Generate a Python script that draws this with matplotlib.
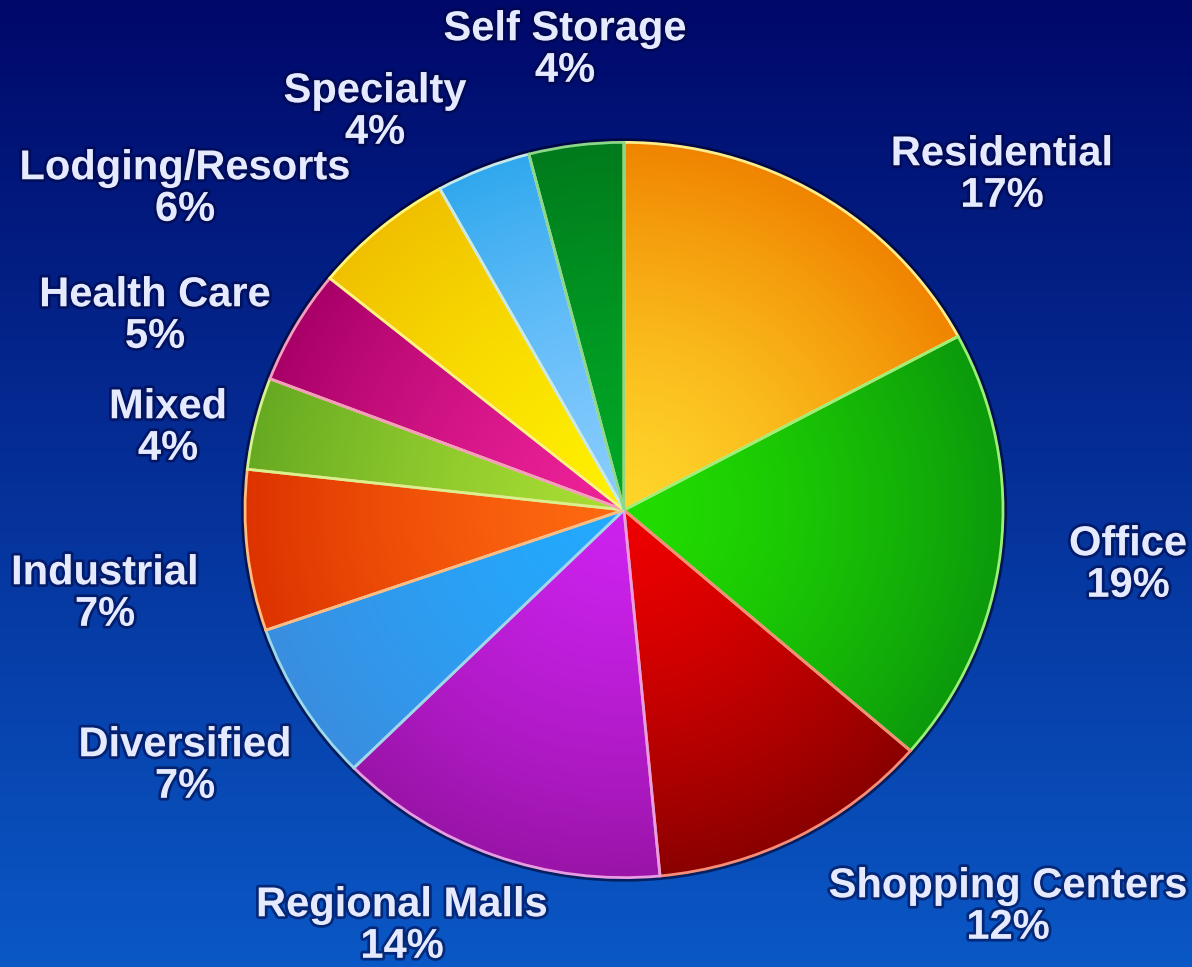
import numpy as np
import matplotlib
matplotlib.use("Agg")
import matplotlib.pyplot as plt
import matplotlib.patheffects as pe
from matplotlib.colors import to_rgb
from matplotlib.patches import Circle

categories = ["Residential", "Office", "Shopping Centers", "Regional Malls",
              "Diversified", "Industrial", "Mixed", "Health Care",
              "Lodging/Resorts", "Specialty", "Self Storage"]
shares = [17, 19, 12, 14, 7, 7, 4, 5, 6, 4, 4]

# colour near centre / colour at rim for each slice
light_colors = ["#ffd52a", "#22dd00", "#ee0000", "#cc22ee", "#22aaff", "#ff6a10",
                "#a8dd33", "#ee2299", "#fff000", "#88ccff", "#00a826"]
dark_colors = ["#f08400", "#0c9a0c", "#8a0000", "#9a14a8", "#3a8ee0", "#dd3300",
               "#66aa22", "#a80068", "#f0c000", "#30a8ee", "#007a1c"]

# label anchors in pixels (x, y from top)
label_pos = [(1002, 175), (1128, 565), (1008, 907), (402, 926), (185, 766),
             (105, 594), (168, 428), (155, 316), (185, 189), (375, 112), (565, 50)]

W, H = 1192, 967
ysq = 0.97  # the pie is a touch flatter than round
R = 379
cx, cy = 624, (H - 510) / ysq

fig = plt.figure(figsize=(W / 100, H / 100), dpi=100)

# background gradient
bg = fig.add_axes([0, 0, 1, 1])
top = np.array(to_rgb("#00086a"))
bot = np.array(to_rgb("#0a58c6"))
t = np.linspace(0, 1, 256)[:, None, None]
grad = top * (1 - t) + bot * t
bg.imshow(np.repeat(grad, 2, axis=1), aspect="auto", extent=(0, 1, 0, 1))
bg.axis("off")

ax = fig.add_axes([0, 0, 1, 1])
ax.patch.set_alpha(0)
wedges, _ = ax.pie(shares, startangle=90, counterclock=False,
                   center=(cx, cy), radius=R)
ax.set_aspect("auto")
ax.set_xlim(0, W)
ax.set_ylim(0, H / ysq)
ax.axis("off")

# dark rim
ax.add_patch(Circle((cx, cy), R + 2, facecolor="none", edgecolor="#000022",
                    lw=3, alpha=0.6, zorder=0.5))

xs = np.linspace(cx - R, cx + R, 700)
ys = np.linspace(cy - R, cy + R, 700)
X, Y = np.meshgrid(xs, ys)
rr = np.clip(np.hypot(X - cx, Y - cy) / R, 0, 1)[:, :, None]

for w, lc, dc in zip(wedges, light_colors, dark_colors):
    l = np.array(to_rgb(lc))
    d = np.array(to_rgb(dc))
    k = rr ** 1.4
    img = l * (1 - k) + d * k
    im = ax.imshow(img, extent=(cx - R, cx + R, cy - R, cy + R),
                   origin="lower", zorder=1, interpolation="bilinear",
                   aspect="auto")
    im.set_clip_path(w)
    tint = l * 0.45 + np.array([1, 1, 0.85]) * 0.55
    w.set_facecolor("none")
    w.set_edgecolor(tint)
    w.set_linewidth(2)
    w.set_zorder(2)

for name, val, (px, py) in zip(categories, shares, label_pos):
    fig.text(px / W, 1 - py / H, f"{name}\n{val}%", ha="center", va="center",
             fontsize=30, fontweight="bold", family="Liberation Sans",
             color="#e6eaff", linespacing=1.05, zorder=5,
             path_effects=[pe.withStroke(linewidth=4, foreground="#000640", alpha=0.55)])

fig.savefig("out.png", dpi=100)
